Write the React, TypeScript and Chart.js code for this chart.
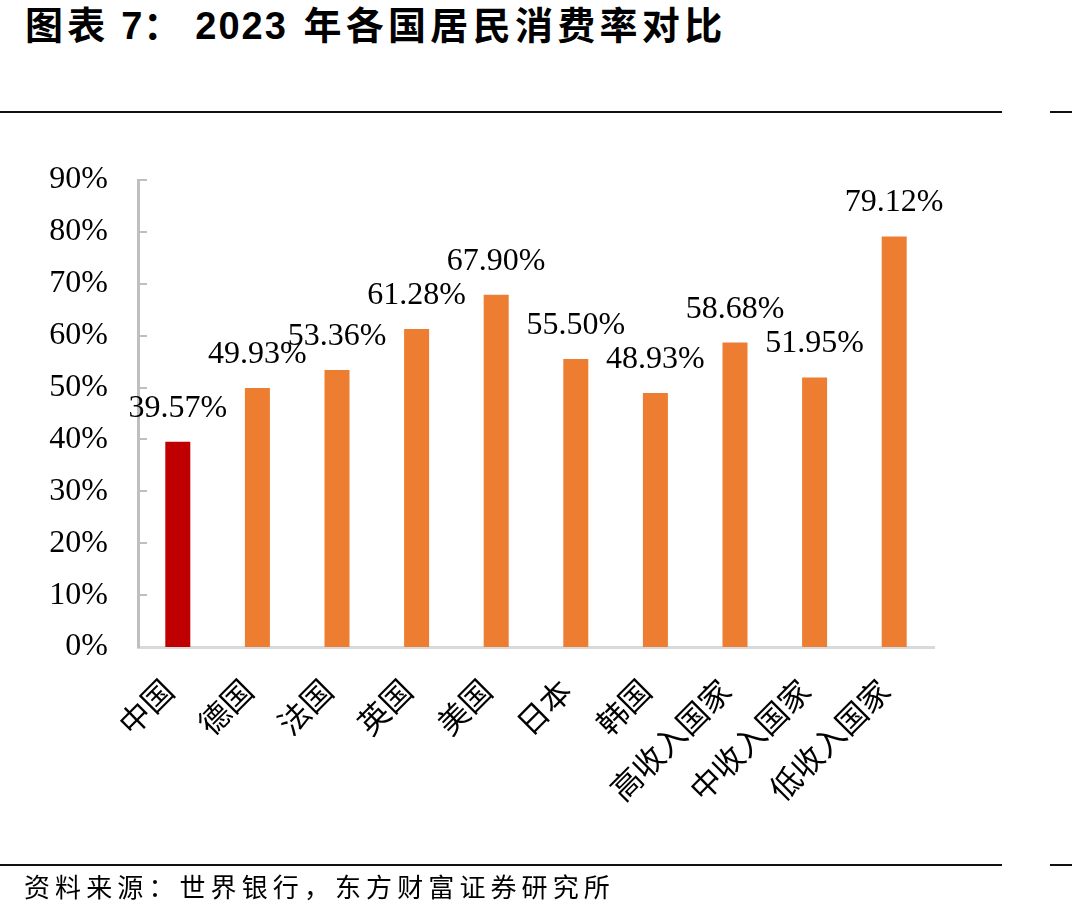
import React, { useEffect, useRef } from "react";
import { Chart, registerables } from "chart.js";

Chart.register(...registerables);

const categories = ["中国", "德国", "法国", "英国", "美国", "日本", "韩国", "高收入国家", "中收入国家", "低收入国家"];
const values = [39.57, 49.93, 53.36, 61.28, 67.9, 55.5, 48.93, 58.68, 51.95, 79.12];
const barColors = ["#C00000", "#ED7D31", "#ED7D31", "#ED7D31", "#ED7D31", "#ED7D31", "#ED7D31", "#ED7D31", "#ED7D31", "#ED7D31"];
const yTicks = [0, 10, 20, 30, 40, 50, 60, 70, 80, 90];

const titleParts = ["图表", " 7", "：", "2023", " ", "年各国居民消费率对比"];
const sourceText = "资料来源：世界银行，东方财富证券研究所";

const W = 1072;
const H = 917;

export default function App() {
  const ref = useRef<HTMLCanvasElement | null>(null);

  useEffect(() => {
    const canvas = ref.current;
    if (!canvas) return;

    const innerTicks = {
      id: "innerTicks",
      afterDraw(chart: any) {
        const ctx = chart.ctx;
        const y = chart.scales.y;
        const left = chart.chartArea.left;
        ctx.save();
        ctx.strokeStyle = "#bfbfbf";
        ctx.lineWidth = 2;
        yTicks.forEach((v) => {
          if (v === 0) return;
          const py = Math.round(y.getPixelForValue(v));
          ctx.beginPath();
          ctx.moveTo(left, py);
          ctx.lineTo(left + 9, py);
          ctx.stroke();
        });
        ctx.restore();
      },
    };

    const dataLabels = {
      id: "dataLabels",
      afterDatasetsDraw(chart: any) {
        const ctx = chart.ctx;
        const meta = chart.getDatasetMeta(0);
        ctx.save();
        ctx.font = "32px 'Liberation Serif', 'Times New Roman', serif";
        ctx.fillStyle = "#000000";
        ctx.textAlign = "center";
        ctx.textBaseline = "alphabetic";
        meta.data.forEach((bar: any, i: number) => {
          ctx.fillText(values[i].toFixed(2) + "%", bar.x, bar.y - 25);
        });
        ctx.restore();
      },
    };

    const chart = new Chart(canvas, {
      type: "bar",
      data: {
        labels: categories,
        datasets: [
          {
            data: values,
            backgroundColor: barColors,
            borderWidth: 0,
            barPercentage: 0.314,
            categoryPercentage: 1,
          },
        ],
      },
      options: {
        responsive: false,
        animation: false,
        devicePixelRatio: 1,
        layout: { padding: { left: 0, top: 180, right: W - 934, bottom: 0 } },
        plugins: {
          legend: { display: false },
          tooltip: { enabled: false },
          title: { display: false },
        },
        scales: {
          x: {
            type: "category",
            offset: true,
            grid: { display: false, drawTicks: false, drawOnChartArea: false },
            border: { display: true, color: "#d9d9d9", width: 3 },
            ticks: {
              autoSkip: false,
              maxRotation: 45,
              minRotation: 45,
              padding: 27,
              labelOffset: -10,
              color: "#000000",
              font: { family: "'Noto Sans CJK SC', sans-serif", size: 31, lineHeight: 1 },
            },
            afterFit(scale: any) {
              scale.height = H - 647;
            },
          },
          y: {
            min: 0,
            max: 90,
            grid: { display: false, drawTicks: false, drawOnChartArea: false },
            border: { display: true, color: "#bfbfbf", width: 3 },
            ticks: {
              stepSize: 10,
              padding: 30,
              color: "#000000",
              font: { family: "'Liberation Serif', 'Times New Roman', serif", size: 32 },
              callback: (v: any) => v + "%",
            },
            afterFit(scale: any) {
              scale.width = 138;
            },
          },
        },
      },
      plugins: [innerTicks, dataLabels],
    });

    return () => chart.destroy();
  }, []);

  const lineStyle = (top: number, left: number, width: number): React.CSSProperties => ({
    position: "absolute",
    top,
    left,
    width,
    height: 2,
    background: "#111111",
  });

  const cjkSpacing = "4.3px";

  return (
    <div style={{ position: "absolute", left: 0, top: 0, width: W, height: H, background: "#ffffff", overflow: "hidden" }}>
      <div
        style={{
          position: "absolute",
          left: 25,
          top: 7,
          fontFamily: "'Liberation Sans', 'Noto Sans CJK SC', sans-serif",
          fontWeight: 700,
          fontSize: 38,
          lineHeight: "38px",
          whiteSpace: "nowrap",
          color: "#000",
        }}
      >
        <span style={{ letterSpacing: cjkSpacing }}>{titleParts[0]}</span>
        <span style={{ letterSpacing: "1px" }}>{titleParts[1]}</span>
        <span style={{ letterSpacing: "14px" }}>{titleParts[2]}</span>
        <span style={{ letterSpacing: "2px" }}>{titleParts[3]}</span>
        <span style={{ letterSpacing: "5px" }}>{titleParts[4]}</span>
        <span style={{ letterSpacing: cjkSpacing }}>{titleParts[5]}</span>
      </div>
      <div style={lineStyle(111, 0, 1002)} />
      <div style={lineStyle(111, 1050, 22)} />
      <canvas ref={ref} width={W} height={H} style={{ position: "absolute", left: 0, top: 0, width: W, height: H }} />
      <div style={lineStyle(864, 0, 1002)} />
      <div style={lineStyle(864, 1050, 22)} />
      <div
        style={{
          position: "absolute",
          left: 24,
          top: 873,
          fontFamily: "'Noto Sans CJK SC', sans-serif",
          fontSize: 26,
          lineHeight: "26px",
          letterSpacing: "5.1px",
          whiteSpace: "nowrap",
          color: "#000",
        }}
      >
        {sourceText}
      </div>
    </div>
  );
}
